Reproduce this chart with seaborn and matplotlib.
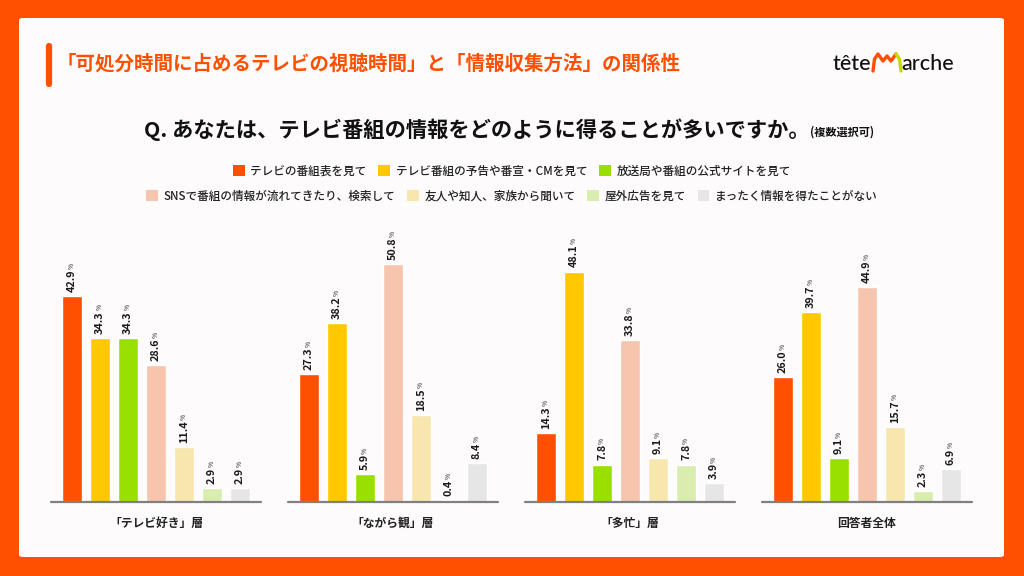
import matplotlib
matplotlib.use("Agg")
import matplotlib.pyplot as plt
import matplotlib.patches as mpatches
from matplotlib.lines import Line2D
from matplotlib.text import Annotation
import seaborn as sns
import pandas as pd

sns.set_theme(style="white")
plt.rcParams['font.family'] = ['Noto Sans CJK JP', 'DejaVu Sans']

# ---------------- data ----------------
groups = ["「テレビ好き」層", "「ながら観」層", "「多忙」層", "回答者全体"]
categories = ["テレビの番組表を見て", "テレビ番組の予告や番宣・CMを見て", "放送局や番組の公式サイトを見て",
              "SNSで番組の情報が流れてきたり、検索して", "友人や知人、家族から聞いて", "屋外広告を見て",
              "まったく情報を得たことがない"]
tv_lovers = [42.9, 34.3, 34.3, 28.6, 11.4, 2.9, 2.9]
nagara = [27.3, 38.2, 5.9, 50.8, 18.5, 0.4, 8.4]
busy = [14.3, 48.1, 7.8, 33.8, 9.1, 7.8, 3.9]
overall = [26.0, 39.7, 9.1, 44.9, 15.7, 2.3, 6.9]
series = [tv_lovers, nagara, busy, overall]
colors = ["#FF4F00", "#FFC800", "#99E000", "#F7C4AE", "#F7E6AE", "#D9EDAE", "#E6E6E6"]

title = "「可処分時間に占めるテレビの視聴時間」と「情報収集方法」の関係性"
question = "Q. あなたは、テレビ番組の情報をどのように得ることが多いですか。"
question_note = "(複数選択可)"

rows = []
for g, vals in zip(groups, series):
    for c, v in zip(categories, vals):
        rows.append({"group": g, "category": c, "value": v})
df = pd.DataFrame(rows)

W, H = 1024, 576
ORANGE = "#FF4F00"


def fx(x):
    return x / W


def fy(y):
    return 1 - y / H


fig = plt.figure(figsize=(W / 100, H / 100), dpi=100)
fig.patch.set_facecolor(ORANGE)

# white panel
panel = mpatches.FancyBboxPatch((fx(19), fy(557)), fx(1004) - fx(19), fy(18) - fy(557),
                                boxstyle="round,pad=0,rounding_size=0.004",
                                transform=fig.transFigure, facecolor="#FDFBFC", edgecolor="none", zorder=-5)
fig.patches.append(panel)

# title accent bar
fig.add_artist(Line2D([fx(49), fx(49)], [fy(46), fy(84)], color=ORANGE, lw=4.5,
                      solid_capstyle="round", transform=fig.transFigure))
fig.text(fx(57), fy(64), title, color=ORANGE, fontsize=14, fontweight="bold", ha="left", va="center")

# logo
fig.text(fx(871), fy(70), "tête", fontsize=15.5, family=["Lato", "DejaVu Sans"], fontweight="medium",
         ha="right", va="baseline", color="#111111")
fig.text(fx(901), fy(70), "arche", fontsize=15.5, family=["Lato", "DejaVu Sans"], fontweight="medium",
         ha="left", va="baseline", color="#111111")
mx = [873, 874.5, 878, 883, 887, 891, 896, 899.5, 901]
my = [71, 59, 54, 61, 56, 61, 54, 59, 71]
fig.add_artist(Line2D([fx(v) for v in mx[:7]], [fy(v) for v in my[:7]], color=ORANGE, lw=2.4,
                      solid_joinstyle="round", solid_capstyle="round", transform=fig.transFigure))
fig.add_artist(Line2D([fx(v) for v in mx[6:]], [fy(v) for v in my[6:]], color="#C8D800", lw=2.4,
                      solid_capstyle="round", transform=fig.transFigure))

# question
qt = fig.text(fx(144), fy(137), question, fontsize=15.3, fontweight="bold", ha="left", va="baseline",
              color="#111111")
note = Annotation(question_note, xy=(1, 0), xycoords=qt, xytext=(0, 1.5), textcoords="offset points",
                  fontsize=8, fontweight="bold", ha="left", va="bottom", color="#111111",
                  annotation_clip=False)
fig.add_artist(note)

# legends
handles = [mpatches.Patch(facecolor=c, edgecolor="none") for c in colors]
leg1 = fig.legend(handles[:3], categories[:3], loc="center", bbox_to_anchor=(0.5, fy(171)), ncol=3,
                  frameon=False, fontsize=8.4, handlelength=1.0, handleheight=1.0, handletextpad=0.5,
                  columnspacing=1.0, borderpad=0)
leg2 = fig.legend(handles[3:], categories[3:], loc="center", bbox_to_anchor=(0.5, fy(196)), ncol=4,
                  frameon=False, fontsize=8.4, handlelength=1.0, handleheight=1.0, handletextpad=0.5,
                  columnspacing=1.0, borderpad=0)
for leg in (leg1, leg2):
    for t in leg.get_texts():
        t.set_fontweight("medium")
        t.set_color("#222222")

# bar panels
ax_h = 263
ymax = [54.9, 56.2, 54.9, 54.9]
for i, g in enumerate(groups):
    left = 51 + 237 * i
    ax = fig.add_axes([fx(left), fy(502), 210 / W, ax_h / H], zorder=2)
    ax.set_facecolor("none")
    ax.patch.set_alpha(0)
    sub = df[df["group"] == g]
    sns.barplot(data=sub, x="category", y="value", hue="category", order=categories,
                hue_order=categories, palette=colors, saturation=1, width=0.714, legend=False,
                ax=ax, errorbar=None, zorder=2)
    ax.set_xlim(-0.75, 6.75)
    ax.set_ylim(0, ymax[i])
    for s in ax.spines.values():
        s.set_visible(False)
    ax.set_xticks([])
    ax.set_yticks([])
    ax.set_xlabel("")
    ax.set_ylabel("")
    ax.axhline(0, color="#808080", lw=1.6, zorder=3, clip_on=False)
    for p in ax.patches:
        v = p.get_height()
        xc = p.get_x() + p.get_width() / 2
        t = ax.annotate(f"{v:.1f}", xy=(xc, v), xytext=(0, 3), textcoords="offset points",
                        rotation=90, ha="center", va="bottom", fontsize=7.8, fontweight="bold",
                        color="#1a1a1a", annotation_clip=False)
        ax.annotate("%", xy=(1, 1), xycoords=t, xytext=(-0.6, 0.3), textcoords="offset points",
                    rotation=90, ha="right", va="bottom", fontsize=4.8, color="#222222",
                    annotation_clip=False)
    ax.text(0.5, -21 / ax_h, g, transform=ax.transAxes, ha="center", va="center", fontsize=8.5,
            fontweight="bold", color="#222222")

fig.savefig("out.png", dpi=100, facecolor=fig.get_facecolor())
